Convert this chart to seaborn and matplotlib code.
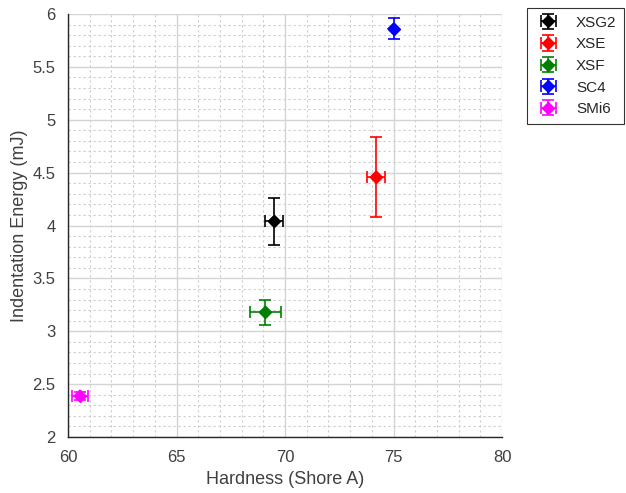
import matplotlib
matplotlib.use("Agg")
import matplotlib.pyplot as plt
import seaborn as sns
import pandas as pd
from matplotlib.ticker import MultipleLocator

samples = ["XSG2", "XSE", "XSF", "SC4", "SMi6"]
hardness = [69.5, 74.2, 69.1, 75.0, 60.55]
hardness_err = [0.4, 0.4, 0.7, 0.0, 0.37]
energy = [4.04, 4.46, 3.18, 5.86, 2.39]
energy_err = [0.22, 0.38, 0.12, 0.10, 0.04]
colors = ["black", "red", "green", "blue", "magenta"]

df = pd.DataFrame({"sample": samples, "hardness": hardness, "energy": energy,
                   "xerr": hardness_err, "yerr": energy_err})

sns.set_style("white")
plt.rcParams["font.family"] = ["Liberation Sans", "DejaVu Sans"]

fig = plt.figure(figsize=(6.26, 4.93), dpi=100)
ax = fig.add_axes([68/626, 1-437/493, (502-68)/626, (437-14)/493])

sns.scatterplot(data=df, x="hardness", y="energy", hue="sample",
                palette=dict(zip(samples, colors)), marker="D", s=45,
                edgecolor=None, linewidth=0, ax=ax, legend=False, zorder=4)

handles = []
for i, row in df.iterrows():
    h = ax.errorbar(row["hardness"], row["energy"], xerr=row["xerr"], yerr=row["yerr"],
                    fmt="D", color=colors[i], ms=6.5, capsize=4, elinewidth=1.2,
                    capthick=1.2, label=row["sample"], zorder=3)
    handles.append(h)

ax.set_xlim(60, 80)
ax.set_ylim(2, 6)
ax.xaxis.set_major_locator(MultipleLocator(5))
ax.xaxis.set_minor_locator(MultipleLocator(1))
ax.yaxis.set_major_locator(MultipleLocator(0.5))
ax.yaxis.set_minor_locator(MultipleLocator(0.1))
ax.xaxis.set_major_formatter(matplotlib.ticker.FuncFormatter(lambda v, p: f"{v:g}"))
ax.yaxis.set_major_formatter(matplotlib.ticker.FuncFormatter(lambda v, p: f"{v:g}"))
ax.grid(which="major", color="#d4d4d4", linewidth=1.0, linestyle="-")
ax.grid(which="minor", color="#cccccc", linewidth=0.8, linestyle=(0, (2, 2.5)))
ax.set_axisbelow(True)
ax.tick_params(which="both", direction="in", top=False, right=False, labelsize=12,
               colors="#262626", labelcolor="#404040", pad=9)
ax.tick_params(which="major", length=5)
ax.tick_params(which="minor", length=0)
ax.spines["top"].set_visible(False)
ax.spines["right"].set_visible(False)
for s in ["left", "bottom"]:
    ax.spines[s].set_color("#262626")
    ax.spines[s].set_linewidth(1.0)
ax.set_xlabel("Hardness (Shore A)", fontsize=13, color="#404040", labelpad=5)
ax.set_ylabel("Indentation Energy (mJ)", fontsize=13, color="#404040", labelpad=3)

leg = ax.legend(handles=handles, labels=samples, loc="upper left",
                bbox_to_anchor=(527/626, 1-8/493), bbox_transform=fig.transFigure,
                frameon=True, fancybox=False, edgecolor="black", fontsize=11,
                borderaxespad=0, handlelength=1.8, handletextpad=0.9,
                labelspacing=0.5, borderpad=0.5)
leg.get_frame().set_linewidth(0.8)

fig.savefig("out.png", dpi=100)
